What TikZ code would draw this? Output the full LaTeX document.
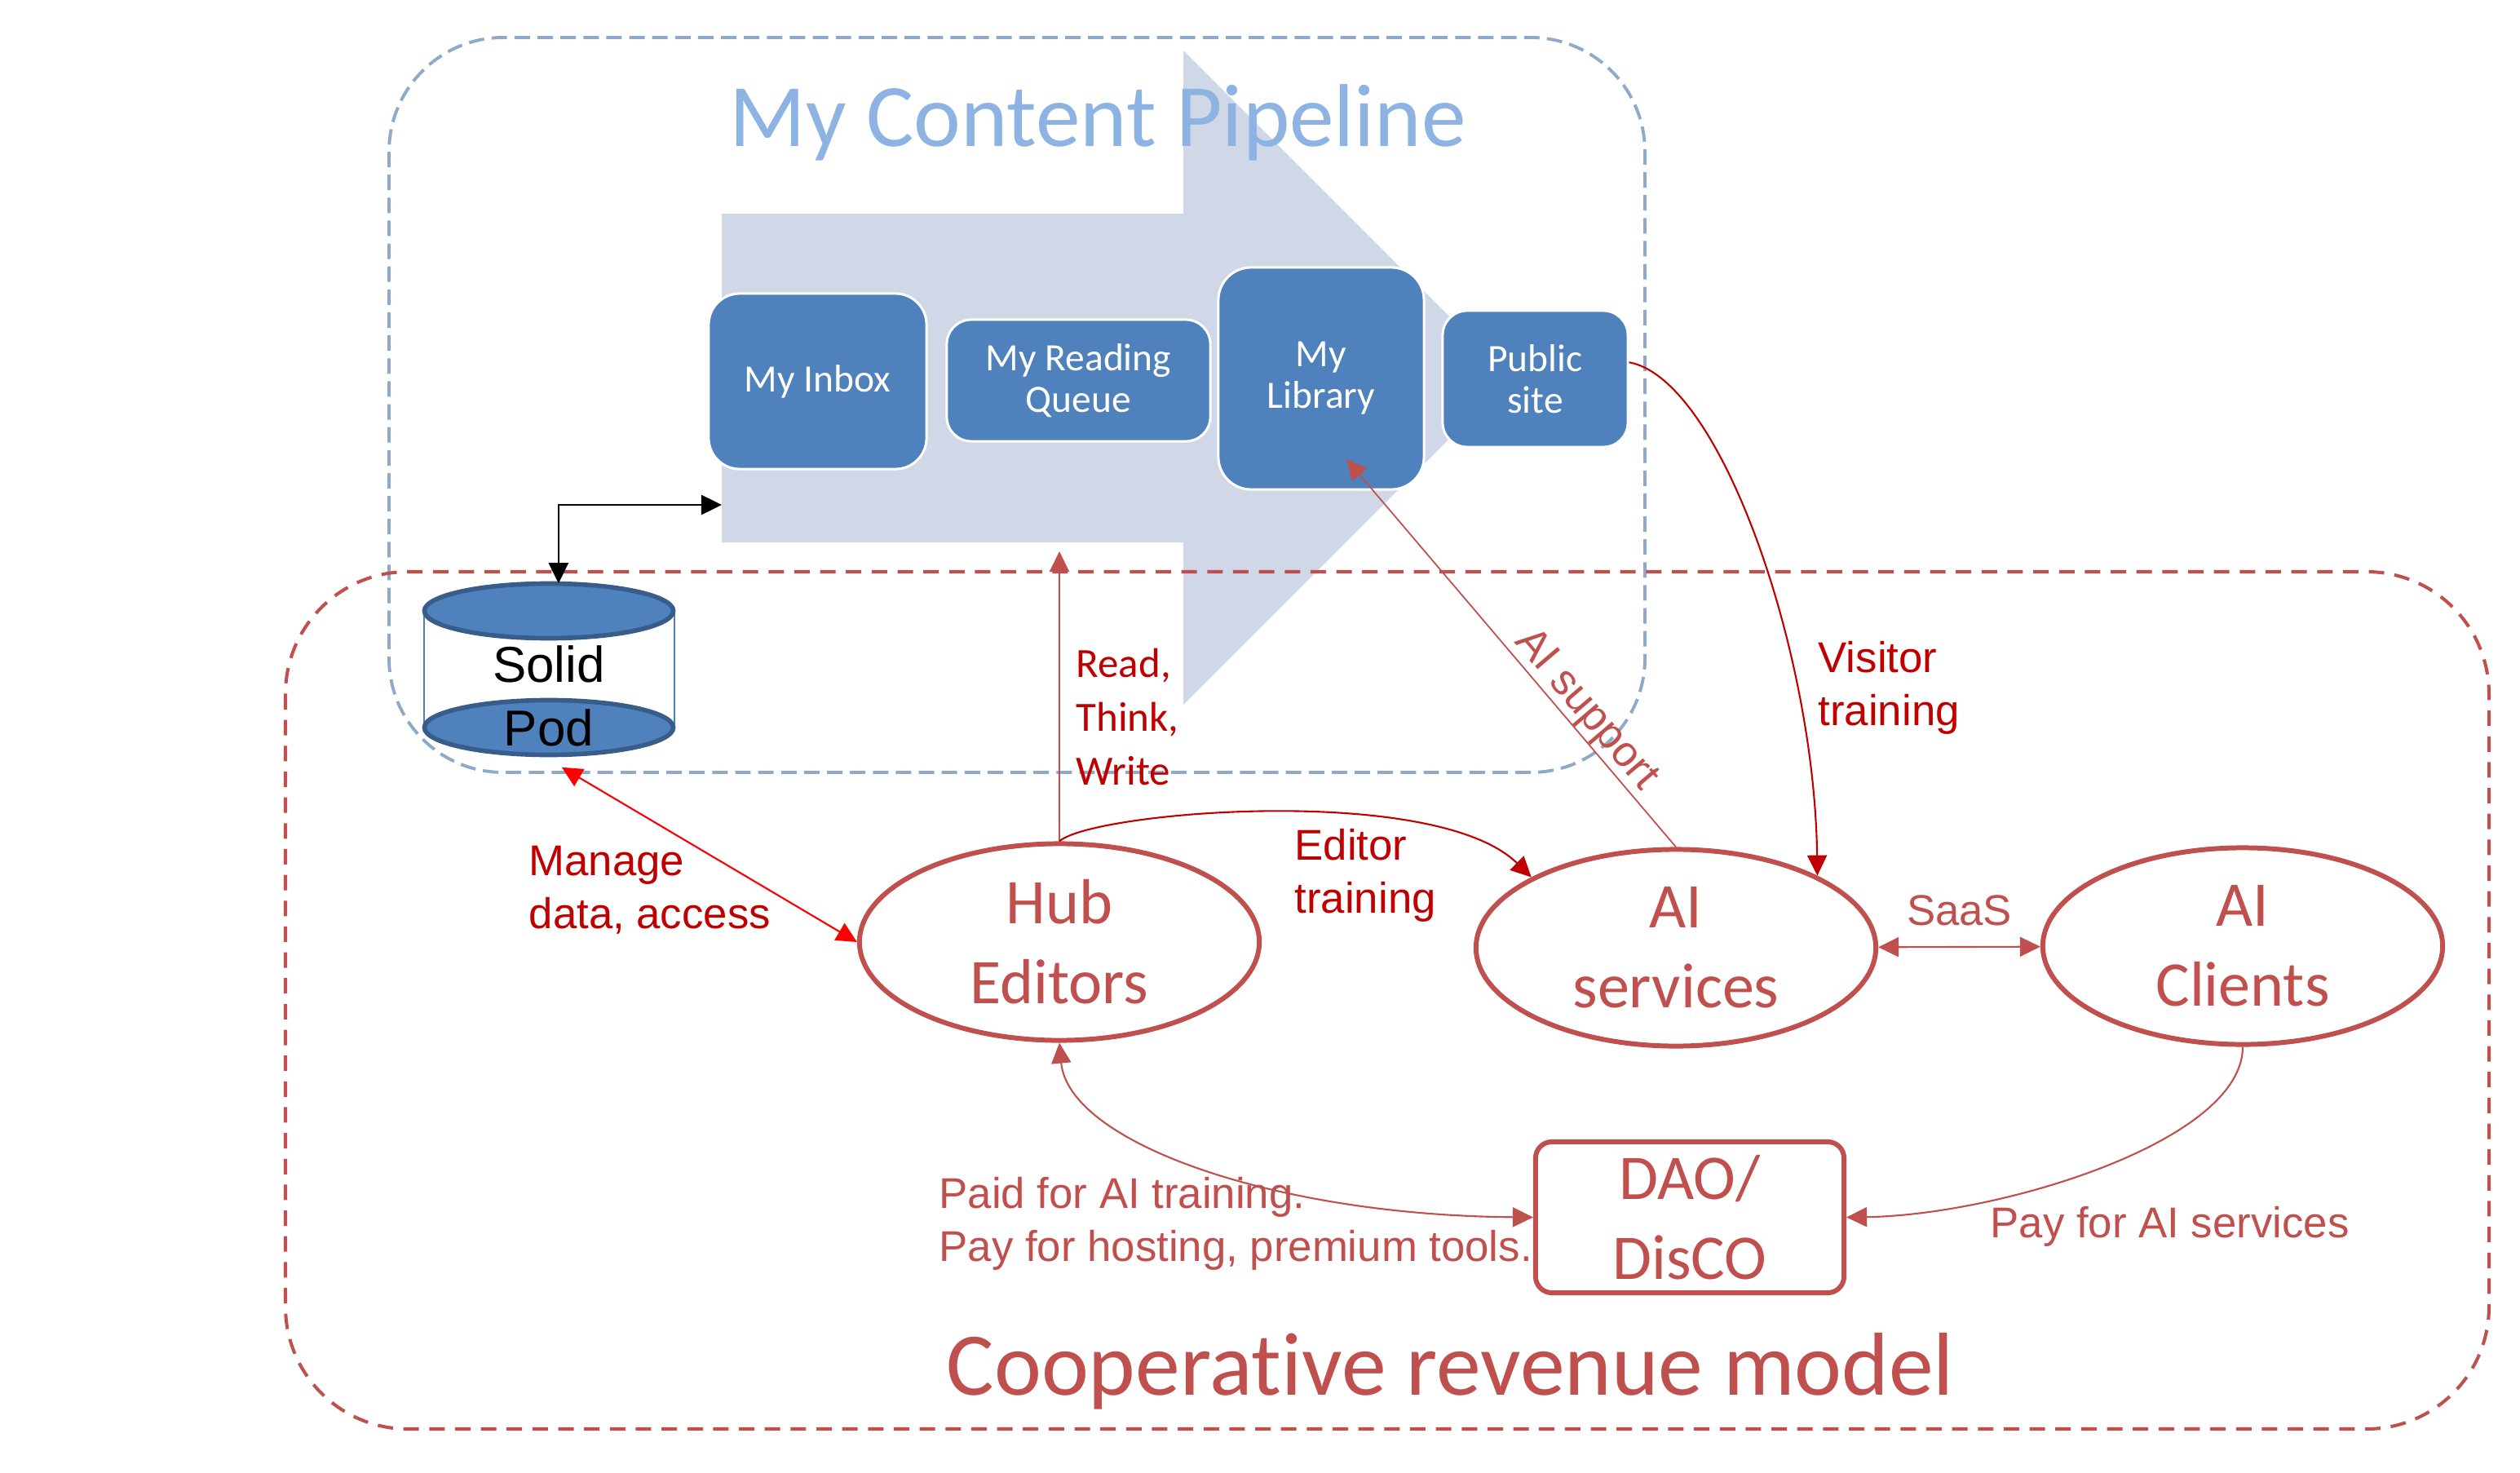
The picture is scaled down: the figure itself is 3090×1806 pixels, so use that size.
\documentclass[tikz,border=0pt]{standalone}
\usepackage{fontspec}
\setmainfont{Carlito}[Ligatures=NoCommon]
\newfontfamily\arialf{Liberation Sans}
\usetikzlibrary{arrows.meta,shapes.geometric}
\definecolor{pipeline}{RGB}{143,170,200}
\definecolor{arrowfill}{RGB}{208,216,232}
\definecolor{boxblue}{RGB}{79,129,189}
\definecolor{titleblue}{RGB}{141,179,226}
\definecolor{podedge}{RGB}{56,93,138}
\definecolor{coop}{RGB}{192,80,77}
\definecolor{darkred}{RGB}{192,0,0}
\definecolor{brightred}{RGB}{255,0,0}
\newcommand\leftlines[1]{\vtop{\let\\\cr\halign{##\hfil\cr#1\crcr}}}
\newcommand\centerlines[1]{\vtop{\let\\\cr\halign{\hfil##\hfil\cr#1\crcr}}}
\tikzset{
  pipebox/.style={rectangle, rounded corners=0.3cm, fill=boxblue, draw=white, line width=0.85pt,
    text=white, font=\fontsize{13.5}{14.5}\selectfont, align=center, inner sep=0pt},
  actor/.style={ellipse, draw=coop, line width=1.7pt, minimum width=4.9cm, minimum height=2.41cm,
    inner sep=0pt, text=coop, align=center, font=\fontsize{22.2}{27.9}\selectfont},
  daobox/.style={rectangle, rounded corners=0.2cm, draw=coop, line width=1.7pt, minimum width=3.78cm,
    minimum height=1.85cm, inner sep=0pt, text=coop, align=center, font=\fontsize{22.2}{27.9}\selectfont},
  pipeframe/.style={draw=pipeline, line width=1.1pt, dash pattern=on 5.4pt off 2.6pt, rounded corners=1.4cm},
  coopframe/.style={draw=coop, line width=1.15pt, dash pattern=on 5.4pt off 3.6pt, rounded corners=1.5cm},
  podell/.style={fill=boxblue, draw=podedge, line width=1.6pt},
  arlab/.style={anchor=base west, inner sep=0pt, font=\arialf\fontsize{15}{18.5}\selectfont},
  tipA/.tip={Triangle[length=0.25cm, width=0.24cm]},
  blackconn/.style={draw=black, line width=0.7pt, tipA-tipA},
  manageconn/.style={draw=brightred, line width=0.6pt, tipA-tipA},
  coopconn/.style={draw=coop, line width=0.6pt, -tipA},
  coopboth/.style={draw=coop, line width=0.6pt, tipA-tipA},
  darkconn/.style={draw=darkred, line width=0.6pt, -tipA}
}
\begin{document}
\begin{tikzpicture}[x=0.01cm, y=-0.01cm]
\fill[white] (0,0) rectangle (3090,1806);
\useasboundingbox (0,0) rectangle (3090,1806);

% pipeline frame and big arrow
\draw[pipeframe] (477,46) rectangle (2017,947);
\fill[arrowfill] (885,262) -- (1451,262) -- (1451,62) -- (1852,463) -- (1451,864) -- (1451,665) -- (885,665) -- cycle;
\coordinate (pipeIn) at (885,619);

\node[anchor=base west, inner sep=0pt, text=titleblue, font=\fontsize{31.1}{36}\selectfont] (title) at (894,180) {My Content Pipeline};

\node[pipebox, rounded corners=0.38cm, minimum width=2.67cm, minimum height=2.15cm] (inbox) at (1002.5,467.5) {My Inbox};
\node[pipebox, minimum width=3.23cm, minimum height=1.49cm] (queue) at (1322.5,466.5) {My Reading\\Queue};
\node[pipebox, rounded corners=0.4cm, minimum width=2.52cm, minimum height=2.72cm] (library) at (1620,464) {My\\Library};
\node[pipebox, minimum width=2.27cm, minimum height=1.67cm] (pub) at (1882.5,464.5) {Public\\site};
\coordinate (libTip) at (1651,563);

% cooperative frame
\draw[coopframe] (350,701) rectangle (3052,1752);

% Solid pod
\draw[boxblue, line width=0.45pt] (520,749) -- (520,892) (827,749) -- (827,892);
\draw[podell] (673,892) ellipse [x radius=1.525cm, y radius=0.335cm];
\draw[podell] (673,749) ellipse [x radius=1.525cm, y radius=0.335cm];
\node[rectangle, inner sep=0pt, minimum width=3.08cm, font=\arialf\fontsize{17.6}{22.2}\selectfont] (pod) at (673,828)
  {\rule[-1.04cm]{0pt}{2.24cm}\smash{\centerlines{Solid\\Pod}}};

% actors
\node[actor] (hub) at (1299,1155) {Hub\\Editors};
\node[actor] (aiserv) at (2055,1162) {AI\\services};
\node[actor] (aicli) at (2750,1160) {AI\\Clients};
\node[daobox] (dao) at (2072,1492.5) {DAO/\\DisCO};
\coordinate (rtwTip) at (1299,676);

% labels
\node[anchor=base west, inner sep=0pt, text=darkred, font=\fontsize{14.5}{18.8}\selectfont] (rtw) at (1319,830) {\leftlines{Read,\\Think,\\Write}};
\node[arlab, text=darkred] (visitor) at (2229,824) {\leftlines{Visitor\\training}};
\node[arlab, text=darkred] (manage) at (648,1073) {\leftlines{Manage\\data, access}};
\node[arlab, text=darkred] (editor) at (1587,1054) {\leftlines{Editor\\training}};
\node[arlab, text=coop] (paid) at (1151,1481) {\leftlines{Paid for AI training.\\Pay for hosting, premium tools.}};
\node[arlab, text=coop] (payai) at (2440,1517) {Pay for AI services};
\node[anchor=base west, inner sep=0pt, text=coop, font=\fontsize{31.2}{36}\selectfont] (cooptitle) at (1160,1710) {Cooperative revenue model};

% connectors
\draw[blackconn] (pipeIn) -| (pod.84);
\draw[manageconn] (pod.-82) -- (hub.west);
\draw[coopconn] (hub.north) -- (rtwTip);
\draw[darkconn] (hub.north) .. controls (1340,995) and (1760,960) .. (aiserv.154);
\draw[coopconn, line width=0.5pt] (aiserv.north) -- node[pos=0.32, sloped, above, inner sep=0pt, text=coop, font=\arialf\fontsize{15}{18.5}\selectfont] (aisup) {AI support} (libTip);
\draw[darkconn] (pub.10) .. controls (2110,465) and (2225,800) .. (aiserv.27);
\draw[coopboth] (aiserv) -- node[above=0.25cm, inner sep=0pt, text=coop, font=\arialf\fontsize{15}{18.5}\selectfont] (saas) {SaaS} (aicli);
\draw[coopboth] (hub.south) .. controls (1310,1400) and (1560,1490) .. (dao.west);
\draw[coopconn] (aicli.south) .. controls (2750,1400) and (2450,1490) .. (dao.east);
\end{tikzpicture}
\end{document}
